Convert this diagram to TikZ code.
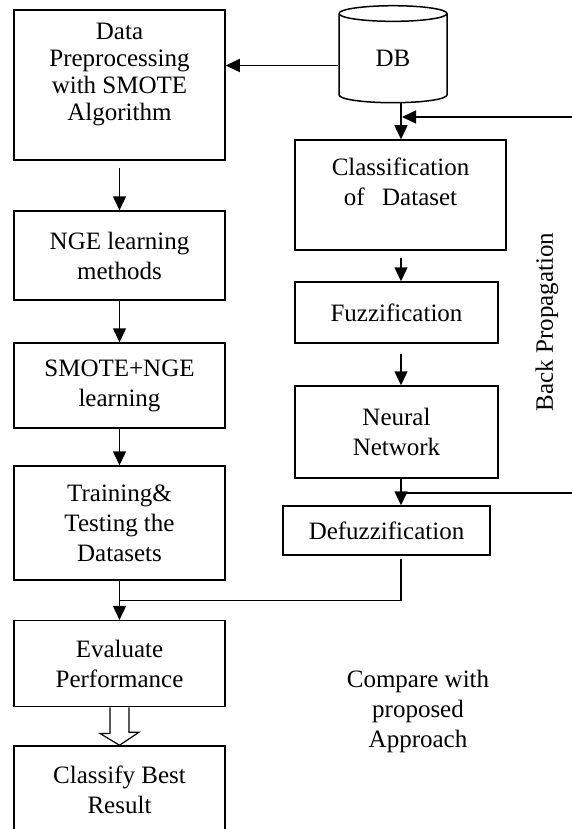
\documentclass[tikz,border=0pt]{standalone}
\usepackage{fontspec}
\setmainfont{Liberation Serif}
\usetikzlibrary{positioning, calc, arrows.meta, shapes.geometric}
\tikzset{
    procbox/.style={
        draw, line width=1.5pt, align=center, inner sep=2pt, font=\fontsize{25}{30}\selectfont
    },
    ptr/.style={
        -{Triangle[length=14pt,width=13pt]}, line width=1.5pt
    },
    plainline/.style={
        line width=1.5pt
    },
    freetext/.style={
        align=center, font=\fontsize{25}{30}\selectfont
    }
}

\begin{document}
\begin{tikzpicture}[x=1pt, y=-1pt]

        % --- FRAME ---
        \useasboundingbox (0,0) rectangle (572,829);
        \clip (0,0) rectangle (572,829);

        % --- LEFT COLUMN ---
        \node[procbox, minimum width=211pt, minimum height=150pt,
              label={[freetext, font=\fontsize{25}{27}\selectfont, yshift=10pt]center:{Data\\Preprocessing\\with SMOTE\\Algorithm}}] (prep) at (119.5,85) {};
        \node[procbox, minimum width=211pt, minimum height=89pt] (nge) at (119.5,255.5) {NGE learning\\methods};
        \node[procbox, minimum width=211pt, minimum height=85pt] (smnge) at (119.5,385.5) {SMOTE+NGE\\learning};
        \node[procbox, minimum width=211pt, minimum height=114pt] (train) at (119.5,523) {Training\&\\Testing the\\Datasets};
        \node[procbox, minimum width=211pt, minimum height=86pt] (eval) at (119.5,663.7) {Evaluate\\Performance};
        \node[procbox, minimum width=211pt, minimum height=88pt] (best) at (119.5,790) {Classify Best\\Result};

        % --- RIGHT COLUMN ---
        \node[cylinder, shape border rotate=90, draw, line width=1.5pt, aspect=0.45,
              minimum width=108pt, minimum height=97pt, inner sep=0pt,
              font=\fontsize{25}{30}\selectfont] (DB) at (393,58.5) {DB};
        \node[procbox, minimum width=211pt, minimum height=110pt,
              label={[freetext, yshift=13pt]center:{Classification\\of\hspace{0.7em}Dataset}}] (cls) at (400.5,195) {};
        \node[procbox, minimum width=203pt, minimum height=61pt] (fuz) at (396.5,312.5) {Fuzzification};
        \node[procbox, minimum width=203pt, minimum height=92pt] (nn) at (396.5,432) {Neural\\Network};
        \node[procbox, minimum width=207pt, minimum height=49pt] (defz) at (386.5,530.5) {Defuzzification};

        % --- TEXTS ---
        \node[freetext, rotate=90] (bp) at (547,322) {Back Propagation};
        \node[freetext] (cmp) at (418,711) {Compare with\\proposed\\Approach};

        % --- HELPER POINTS ---
        \coordinate (rx) at (401,0);
        \coordinate (bpin) at (572,117);
        \coordinate (bpout) at (572,493);
        \coordinate (mrg) at (119.5,600.5);

        % --- ARROWS ---
        \draw[ptr] ([yshift=-7pt]DB.west) -- ([yshift=-7pt]DB.west -| prep.east);
        \draw[ptr] (DB.south -| rx) -- (cls.north -| rx);
        \draw[ptr, shorten >=1pt] (bpin) -- (bpin -| rx);
        \draw[ptr, shorten <=7pt] (cls.south -| rx) -- (fuz.north -| rx);
        \draw[ptr, shorten <=10pt] (fuz.south -| rx) -- (nn.north -| rx);
        \draw[ptr] (nn.south -| rx) -- (defz.north -| rx);
        \draw[plainline] (bpout) -- (bpout -| rx);
        \draw[plainline, shorten <=3pt] (defz.south -| rx) |- (mrg);

        \draw[ptr, shorten <=7pt] (prep) -- (nge);
        \draw[ptr] (nge) -- (smnge);
        \draw[ptr] (smnge) -- (train);
        \draw[ptr] (train) -- (eval);

        % hollow arrow
        \draw[plainline, line width=1.2pt] ([xshift=-9.5pt]eval.south) -- ++(0,26) -- ++(-10,0) -- (best.north)
            -- ++(19.5,-13) -- ++(-10,0) -- ([xshift=9.5pt]eval.south);

\end{tikzpicture}
\end{document}
